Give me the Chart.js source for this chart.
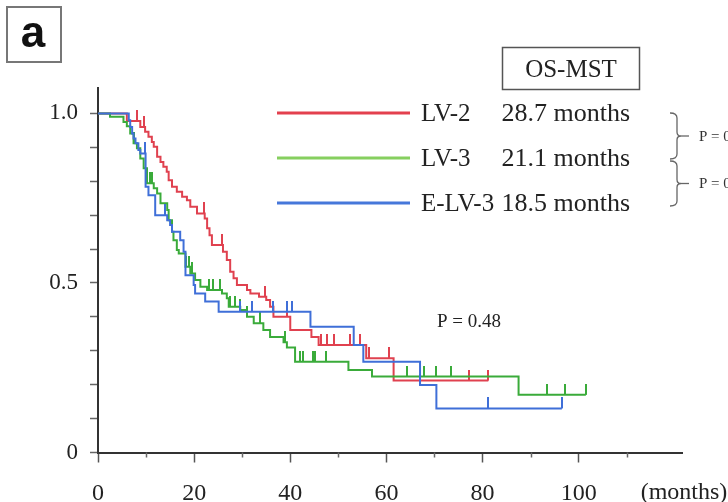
<!DOCTYPE html>
<html>
<head>
<meta charset="utf-8">
<script src="https://cdn.jsdelivr.net/npm/chart.js@4/dist/chart.umd.min.js"></script>
<style>
  html, body { margin: 0; padding: 0; background: #fff; }
  #wrap { position: relative; width: 728px; height: 502px; }
  canvas { display: block; }
</style>
</head>
<body>
<div id="wrap"><canvas id="km" width="728" height="502"></canvas></div>
<script>
// ---- data -------------------------------------------------------------
const groupNames = ['LV-2', 'LV-3', 'E-LV-3'];
const medianSurvival = ['28.7 months', '21.1 months', '18.5 months'];
const xTickValues = [0, 20, 40, 60, 80, 100];
const xMinorTickValues = [10, 30, 50, 70, 90, 110];
const yTickValues = [0, 0.1, 0.2, 0.3, 0.4, 0.5, 0.6, 0.7, 0.8, 0.9, 1.0];
const yTickLabels = { 0: '0', 5: '0.5', 10: '1.0' };
const overallP = 'P = 0.48';

// Kaplan-Meier steps: [months, survival after the event]
const lv2Steps = [
  [0, 1.0], [6.0, 0.978], [8.8, 0.960], [9.8, 0.946], [10.5, 0.931], [11.2, 0.916],
  [11.6, 0.902], [12.3, 0.872], [13.0, 0.857], [13.6, 0.843], [14.3, 0.828],
  [14.7, 0.803], [15.4, 0.784], [16.4, 0.769], [17.5, 0.754], [18.5, 0.744],
  [19.2, 0.725], [20.6, 0.705], [22.2, 0.690], [22.7, 0.661], [23.2, 0.641],
  [23.7, 0.612], [26.0, 0.592], [26.8, 0.568], [27.5, 0.533], [28.2, 0.514],
  [28.9, 0.494], [31.0, 0.479], [31.7, 0.469], [33.5, 0.459], [35.0, 0.450],
  [35.8, 0.430], [36.5, 0.400], [40.0, 0.361], [44.4, 0.341], [45.9, 0.317],
  [55.8, 0.278], [61.5, 0.212]
];
const lv2Censored = [8.1, 9.6, 22.0, 25.8, 34.8, 39.3, 46.3, 47.6, 49.0, 52.5, 54.6, 56.4, 60.5, 77.1, 81.2];
const lv2LastFollowUp = 81.2;

const lv3Steps = [
  [0, 1.0], [2.5, 0.990], [5.3, 0.975], [6.0, 0.962], [6.7, 0.941], [7.4, 0.912],
  [8.1, 0.897], [8.8, 0.867], [9.5, 0.838], [10.2, 0.794], [11.6, 0.779],
  [12.3, 0.764], [13.0, 0.735], [14.4, 0.715], [14.7, 0.685], [15.4, 0.651],
  [15.7, 0.626], [16.4, 0.597], [16.8, 0.587], [18.2, 0.548], [19.2, 0.528],
  [20.2, 0.509], [21.3, 0.489], [22.7, 0.479], [25.8, 0.469], [26.8, 0.455],
  [27.2, 0.430], [29.6, 0.420], [31.0, 0.400], [32.4, 0.381], [34.4, 0.361],
  [35.8, 0.341], [38.6, 0.325], [39.3, 0.310], [41.0, 0.268], [52.1, 0.243],
  [57.0, 0.224], [87.5, 0.170]
];
const lv3Censored = [7.4, 10.9, 11.3, 18.4, 18.9, 19.5, 23.0, 24.0, 25.4, 27.5, 28.6, 29.6, 31.0,
  33.8, 39.0, 42.0, 42.7, 44.7, 45.2, 47.5, 64.3, 67.8, 70.4, 73.4, 93.4, 97.2, 101.5];
const lv3LastFollowUp = 101.5;

const elv3Steps = [
  [0, 1.0], [6.4, 0.980], [6.7, 0.960], [7.1, 0.941], [7.4, 0.926], [7.8, 0.912],
  [8.4, 0.892], [8.8, 0.882], [9.9, 0.784], [10.5, 0.759], [11.9, 0.700],
  [14.4, 0.685], [15.0, 0.671], [15.4, 0.651], [17.1, 0.626], [17.8, 0.592],
  [18.2, 0.523], [19.9, 0.494], [20.2, 0.469], [22.3, 0.445], [25.1, 0.415],
  [44.2, 0.371], [53.2, 0.317], [55.2, 0.268], [67.0, 0.199], [70.4, 0.130]
];
const elv3Censored = [9.7, 14.0, 29.6, 32.0, 36.5, 39.3, 40.3, 67.0, 81.2, 96.5];
const elv3LastFollowUp = 96.5;

// ---- styling ----------------------------------------------------------
const curveColors = ['#e0414f', '#3aab3a', '#3f6fd8'];
const legendColors = ['#e3404e', '#86cf5f', '#4677da'];
const serif = "'Liberation Serif', 'Times New Roman', serif";
const axisColor = '#333';

function survivalAt(steps, t) {
  let s = steps[0][1];
  for (const [x, y] of steps) { if (x <= t) s = y; else break; }
  return s;
}

function curvePoints(steps, lastFollowUp) {
  const pts = steps.map(([x, y]) => ({ x, y }));
  pts.push({ x: lastFollowUp, y: steps[steps.length - 1][1] });
  return pts;
}

// upward censor tick: the image is centred on the point, so only its top half is inked
function censorMark(color, h) {
  const c = document.createElement('canvas');
  c.width = 2; c.height = h * 2;
  const g = c.getContext('2d');
  g.fillStyle = color;
  g.fillRect(0, 0, 2, h);
  return c;
}

const groups = [
  { steps: lv2Steps, censored: lv2Censored, end: lv2LastFollowUp },
  { steps: lv3Steps, censored: lv3Censored, end: lv3LastFollowUp },
  { steps: elv3Steps, censored: elv3Censored, end: elv3LastFollowUp }
];

const datasets = [];
groups.forEach((g, i) => {
  datasets.push({
    label: groupNames[i],
    type: 'line',
    data: curvePoints(g.steps, g.end),
    stepped: true,
    borderColor: curveColors[i],
    borderWidth: 2,
    pointRadius: 0,
    fill: false,
    order: 3 - i
  });
  datasets.push({
    label: groupNames[i] + ' censored',
    type: 'scatter',
    data: g.censored.map(t => ({ x: t, y: survivalAt(g.steps, t) })),
    pointStyle: censorMark(curveColors[i], 11),
    pointRadius: 5,
    order: 3 - i
  });
});

// ---- annotations drawn around the plot ----------------------------------
const decorations = {
  id: 'decorations',
  afterDraw(chart) {
    const ctx = chart.ctx;
    const xs = chart.scales.x;
    const area = chart.chartArea;
    ctx.save();

    // minor x ticks
    ctx.strokeStyle = '#666';
    ctx.lineWidth = 1.5;
    xMinorTickValues.forEach(v => {
      const px = Math.round(xs.getPixelForValue(v)) + 0.5;
      ctx.beginPath(); ctx.moveTo(px, area.bottom); ctx.lineTo(px, area.bottom + 5); ctx.stroke();
    });

    // unit label at the end of the x axis
    ctx.fillStyle = '#222';
    ctx.font = '24px ' + serif;
    ctx.textAlign = 'center';
    ctx.textBaseline = 'middle';
    ctx.fillText('(months)', 684, 493);

    // panel letter
    ctx.strokeStyle = '#777';
    ctx.lineWidth = 2;
    ctx.strokeRect(7, 7, 54, 55);
    ctx.fillStyle = '#111';
    ctx.font = "bold 44px 'Liberation Sans', Arial, sans-serif";
    ctx.fillText('a', 33, 35);

    // OS-MST header box
    ctx.strokeStyle = '#555';
    ctx.lineWidth = 1.5;
    ctx.strokeRect(502.5, 47.5, 137, 42);
    ctx.fillStyle = '#222';
    ctx.font = '25px ' + serif;
    ctx.fillText('OS-MST', 571, 70);

    // legend rows
    const rowY = [113, 158, 203];
    rowY.forEach((y, i) => {
      ctx.strokeStyle = legendColors[i];
      ctx.lineWidth = 3;
      ctx.beginPath(); ctx.moveTo(277, y); ctx.lineTo(410, y); ctx.stroke();
      ctx.fillStyle = '#222';
      ctx.font = '25px ' + serif;
      ctx.textAlign = 'left';
      ctx.fillText(groupNames[i], 421, y + 1);
      ctx.font = '26px ' + serif;
      ctx.textAlign = 'right';
      ctx.fillText(medianSurvival[i], 630, y + 1);
    });

    // pairwise comparison brackets
    ctx.strokeStyle = '#666';
    ctx.lineWidth = 1.3;
    const brace = (y0, y1) => {
      const ym = (y0 + y1) / 2;
      ctx.beginPath();
      ctx.moveTo(670, y0);
      ctx.quadraticCurveTo(677, y0, 677, y0 + 5);
      ctx.lineTo(677, ym - 4);
      ctx.quadraticCurveTo(677, ym, 681, ym);
      ctx.quadraticCurveTo(677, ym, 677, ym + 4);
      ctx.lineTo(677, y1 - 5);
      ctx.quadraticCurveTo(677, y1, 670, y1);
      ctx.stroke();
      ctx.beginPath(); ctx.moveTo(681, ym); ctx.lineTo(689, ym); ctx.stroke();
      ctx.fillStyle = '#333';
      ctx.font = '15px ' + serif;
      ctx.textAlign = 'left';
      ctx.fillText('P = 0', 699, ym + 1);
    };
    brace(113, 159);
    brace(161, 206);

    // overall log-rank p
    ctx.fillStyle = '#222';
    ctx.font = '19px ' + serif;
    ctx.textAlign = 'left';
    ctx.fillText(overallP, 437, 322);

    ctx.restore();
  }
};

new Chart(document.getElementById('km'), {
  type: 'line',
  data: { datasets },
  options: {
    responsive: false,
    animation: false,
    events: [],
    layout: { padding: { left: 0, right: 46, top: 88, bottom: 0 } },
    plugins: { legend: { display: false }, tooltip: { enabled: false } },
    scales: {
      x: {
        type: 'linear',
        min: 0,
        max: 121.5,
        border: { color: axisColor, width: 2 },
        grid: { drawOnChartArea: false, tickLength: 10, tickColor: '#555', tickWidth: 1.5 },
        ticks: {
          color: '#222',
          font: { family: serif, size: 24 },
          padding: 17,
          maxRotation: 0,
          autoSkip: false,
          callback: v => String(v)
        },
        afterBuildTicks: s => { s.ticks = xTickValues.map(v => ({ value: v })); },
        afterFit: s => { s.height = 49.5; }
      },
      y: {
        type: 'linear',
        min: 0,
        max: 1.075,
        border: { color: axisColor, width: 2 },
        grid: { drawOnChartArea: false, tickLength: 8, tickColor: '#666', tickWidth: 1.5 },
        ticks: {
          color: '#222',
          font: { family: serif, size: 23 },
          padding: 12,
          autoSkip: false,
          callback: v => yTickLabels[Math.round(v * 10)] || ''
        },
        afterBuildTicks: s => { s.ticks = yTickValues.map(v => ({ value: v })); },
        afterFit: s => { s.width = 98; }
      }
    }
  },
  plugins: [decorations]
});
</script>
</body>
</html>
